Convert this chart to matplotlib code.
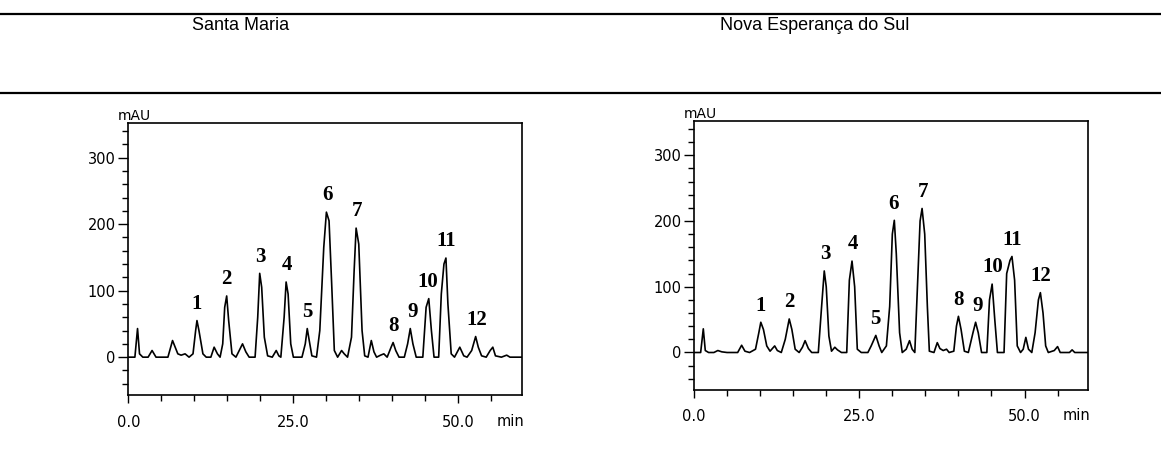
import numpy as np
import matplotlib
matplotlib.use('Agg')
import matplotlib.pyplot as plt
from matplotlib.lines import Line2D
from matplotlib.ticker import MultipleLocator, FixedLocator

titles = ['Santa Maria', 'Nova Esperança do Sul']

# chromatogram traces: (time min, mAU)
sm_time = [0.0, 1.0, 1.4, 1.7, 2.2, 3.0, 3.6, 4.2, 6.0, 6.7, 7.5, 8.0, 8.6, 9.2, 9.8,
           10.2, 10.4, 10.7, 11.3, 11.8, 12.5, 13.0, 13.5, 13.9, 14.3, 14.6, 14.9, 15.2,
           15.7, 16.3, 16.8, 17.3, 17.8, 18.3, 19.2, 19.6, 19.9, 20.2, 20.6, 21.1, 21.8,
           22.4, 22.8, 23.1, 23.6, 23.9, 24.2, 24.6, 25.0, 26.3, 26.8, 27.1, 27.4, 27.8,
           28.5, 29.0, 29.6, 30.0, 30.4, 30.8, 31.2, 31.7, 32.3, 32.7, 33.2, 33.8, 34.2,
           34.5, 34.9, 35.4, 35.8, 36.3, 36.8, 37.2, 37.6, 38.2, 38.7, 39.2, 39.8, 40.1,
           40.5, 41.0, 41.8, 42.3, 42.7, 43.1, 43.6, 44.6, 45.1, 45.5, 45.9, 46.3, 47.0,
           47.4, 47.8, 48.1, 48.4, 48.9, 49.4, 50.2, 50.8, 51.3, 52.0, 52.6, 53.0, 53.5,
           54.2, 54.8, 55.2, 55.6, 56.5, 57.3, 57.8, 59.6]
sm_mau = [0, 0, 43, 5, 0, 0, 10, 0, 0, 25, 5, 3, 5, 0, 5,
          40, 55, 40, 5, 0, 0, 15, 5, 0, 20, 75, 92, 55,
          5, 0, 10, 20, 8, 0, 0, 60, 126, 105, 30, 2, 0,
          10, 2, 0, 60, 113, 95, 20, 0, 0, 20, 43, 25, 2,
          0, 40, 165, 218, 205, 110, 10, 0, 10, 5, 0, 30, 130,
          194, 170, 40, 2, 0, 25, 8, 0, 3, 5, 0, 15, 22,
          10, 0, 0, 20, 43, 20, 0, 0, 75, 88, 40, 0, 0,
          95, 140, 149, 80, 5, 0, 15, 2, 0, 10, 31, 15, 2,
          0, 10, 15, 2, 0, 3, 0, 0]

ne_time = [0.0, 1.0, 1.4, 1.7, 2.2, 3.0, 3.6, 4.2, 5.0, 6.6, 7.2, 7.7, 8.4, 9.3, 9.8,
           10.1, 10.5, 11.0, 11.5, 12.2, 12.6, 13.2, 13.8, 14.4, 14.8, 15.3, 15.9, 16.4,
           16.8, 17.3, 17.8, 18.8, 19.3, 19.7, 20.0, 20.4, 20.8, 21.3, 21.7, 22.3, 23.1,
           23.5, 23.9, 24.3, 24.7, 25.3, 26.3, 26.8, 27.5, 28.0, 28.4, 29.1, 29.6, 30.0,
           30.3, 30.6, 31.1, 31.5, 32.1, 32.6, 33.0, 33.4, 33.8, 34.2, 34.5, 34.9, 35.3,
           35.6, 36.3, 36.8, 37.2, 37.7, 38.2, 38.6, 39.3, 39.7, 40.0, 40.4, 40.9, 41.5,
           42.2, 42.6, 43.0, 43.5, 44.3, 44.7, 45.1, 45.5, 45.9, 46.9, 47.3, 47.8, 48.1,
           48.5, 48.9, 49.4, 49.8, 50.2, 50.6, 51.1, 51.6, 52.1, 52.4, 52.8, 53.2, 53.6,
           54.5, 55.0, 55.4, 56.8, 57.2, 57.6, 59.5]
ne_mau = [0, 0, 36, 3, 0, 0, 3, 1, 0, 0, 11, 2, 0, 5, 30,
          46, 35, 10, 2, 10, 3, 0, 20, 51, 35, 5, 0, 8,
          18, 6, 0, 0, 70, 124, 100, 25, 2, 8, 4, 0, 0,
          110, 139, 100, 5, 0, 0, 10, 26, 10, 0, 10, 70, 180,
          201, 150, 30, 0, 5, 18, 5, 0, 100, 200, 219, 180, 70,
          2, 0, 15, 6, 3, 5, 0, 2, 40, 55, 35, 2, 0,
          30, 46, 30, 0, 0, 80, 104, 50, 0, 0, 120, 140, 146,
          110, 10, 0, 5, 23, 5, 0, 30, 80, 91, 60, 10, 0,
          3, 9, 0, 0, 4, 0, 0]

# numbered peaks: retention time and apex height
peak_ids = ['1', '2', '3', '4', '5', '6', '7', '8', '9', '10', '11', '12']
sm_peak_rt = [10.4, 14.9, 20.0, 24.0, 27.1, 30.1, 34.6, 40.1, 43.0, 45.4, 48.2, 52.7]
sm_peak_h = [55, 92, 126, 113, 43, 218, 194, 22, 43, 88, 149, 31]
ne_peak_rt = [10.1, 14.4, 19.8, 24.0, 27.5, 30.2, 34.7, 40.0, 42.9, 45.2, 48.1, 52.4]
ne_peak_h = [46, 51, 124, 139, 26, 201, 219, 55, 46, 104, 146, 91]

fig = plt.figure(figsize=(11.61, 4.76), dpi=100)

boxes = [[0.1105, 0.170, 0.339, 0.5716], [0.5978, 0.1807, 0.3393, 0.5651]]
traces = [(sm_time, sm_mau, sm_peak_rt, sm_peak_h), (ne_time, ne_mau, ne_peak_rt, ne_peak_h)]
title_x = [0.207, 0.702]

for box, (t, y, rt, h), title, tx in zip(boxes, traces, titles, title_x):
    ax = fig.add_axes(box)
    ax.plot(t, y, color='black', linewidth=1.2)
    ax.set_xlim(0, 59.6)
    ax.set_ylim(-57, 352)
    ax.xaxis.set_major_locator(FixedLocator([0, 25, 50]))
    ax.set_xticklabels(['0.0', '25.0', '50.0'])
    ax.xaxis.set_minor_locator(MultipleLocator(5))
    ax.yaxis.set_major_locator(FixedLocator([0, 100, 200, 300]))
    ax.yaxis.set_minor_locator(MultipleLocator(20))
    ax.tick_params(which='major', direction='out', length=6, width=1.0,
                   labelsize=10.5, color='black', pad=8)
    ax.tick_params(which='minor', direction='out', length=4, width=1.0, color='black')
    ax.tick_params(axis='y', which='major', length=7, pad=2)
    for sp in ax.spines.values():
        sp.set_linewidth(1.2)
    ax.text(-0.026, 1.0, 'mAU', transform=ax.transAxes, ha='left', va='bottom',
            fontsize=10)
    ax.text(0.972, -0.096, 'min', transform=ax.transAxes, ha='center', va='center',
            fontsize=10.5)
    for lab, px, py in zip(peak_ids, rt, h):
        ax.annotate(lab, (px, py), xytext=(0, 12), textcoords='offset points',
                    ha='center', va='center', fontsize=15, fontweight='bold',
                    family='Liberation Serif')
    fig.text(tx, 0.947, title, ha='center', va='center', fontsize=13,
             family='Liberation Sans')

fig.add_artist(Line2D([0, 1], [0.9706, 0.9706], transform=fig.transFigure,
                      color='black', linewidth=1.6))
fig.add_artist(Line2D([0, 1], [0.8046, 0.8046], transform=fig.transFigure,
                      color='black', linewidth=1.6))

plt.savefig('out.png', dpi=100)
